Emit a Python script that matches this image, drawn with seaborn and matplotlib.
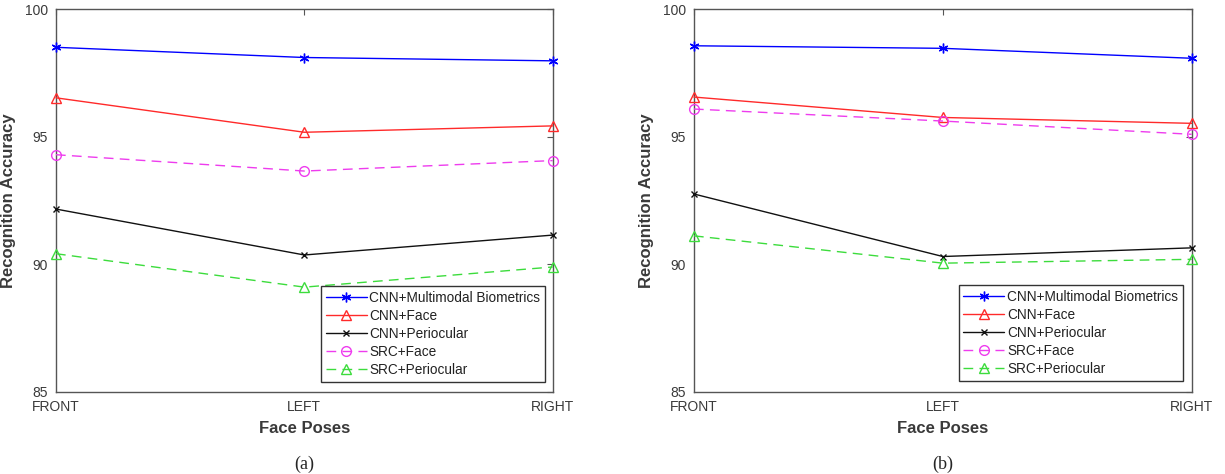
import pandas as pd
import seaborn as sns
import matplotlib as mpl
import matplotlib.pyplot as plt

sns.set_style("white")
plt.rcParams['font.family'] = ['Liberation Sans', 'DejaVu Sans']

poses = ["FRONT", "LEFT", "RIGHT"]
methods = ["CNN+Multimodal Biometrics", "CNN+Face", "CNN+Periocular",
           "SRC+Face", "SRC+Periocular"]

# (a)
acc_a = {
    "CNN+Multimodal Biometrics": [98.51, 98.11, 97.98],
    "CNN+Face": [96.53, 95.18, 95.43],
    "CNN+Periocular": [92.17, 90.37, 91.15],
    "SRC+Face": [94.30, 93.66, 94.07],
    "SRC+Periocular": [90.42, 89.11, 89.90],
}
# (b)
acc_b = {
    "CNN+Multimodal Biometrics": [98.57, 98.47, 98.08],
    "CNN+Face": [96.56, 95.76, 95.53],
    "CNN+Periocular": [92.76, 90.31, 90.65],
    "SRC+Face": [96.09, 95.62, 95.10],
    "SRC+Periocular": [91.12, 90.05, 90.20],
}

styles = {
    "CNN+Multimodal Biometrics": dict(color="#0000ff", marker=(6, 2, 0), ls="-", ms=7),
    "CNN+Face": dict(color="#ff2a2a", marker="^", ls="-", ms=7),
    "CNN+Periocular": dict(color="#111111", marker="x", ls="-", ms=5),
    "SRC+Face": dict(color="#ee3cee", marker="o", ls="--", ms=7),
    "SRC+Periocular": dict(color="#3cdc3c", marker="^", ls="--", ms=7),
}

fig = plt.figure(figsize=(12.25, 4.74), dpi=100)
ax_pos = [[0.0457, 0.173, 0.4055, 0.8074], [0.5665, 0.173, 0.4063, 0.8074]]
leg_anchor = [(0.9845, 0.027), (0.982, 0.0295)]
captions = ["(a)", "(b)"]
grey = "#3a3a3a"

for k, acc in enumerate([acc_a, acc_b]):
    ax = fig.add_axes(ax_pos[k])
    for m in methods:
        st = styles[m]
        df = pd.DataFrame({"pose": poses, "acc": acc[m]})
        sns.lineplot(data=df, x="pose", y="acc", ax=ax, label=m,
                     color=st["color"], marker=st["marker"],
                     markersize=st["ms"], markerfacecolor="none",
                     markeredgecolor=st["color"], markeredgewidth=1,
                     linewidth=1.0, clip_on=False, zorder=3)
        if st["ls"] == "--":
            ax.lines[-1].set_dashes((7, 4.5))
    ax.set_xlim(0, 2)
    ax.set_ylim(85, 100)
    ax.set_yticks([85, 90, 95, 100])
    ax.tick_params(direction="in", length=4, width=0.8, top=True, right=True,
                   labelsize=10, labelcolor=grey, color="#555555", pad=6)
    for sp in ax.spines.values():
        sp.set_color("#555555")
        sp.set_linewidth(1.0)
    ax.set_xlabel("Face Poses", fontsize=12, fontweight="bold", color=grey, labelpad=5)
    ax.set_ylabel("Recognition Accuracy", fontsize=12, fontweight="bold", color=grey, labelpad=6)
    leg = ax.legend(loc="lower right", bbox_to_anchor=leg_anchor[k], borderaxespad=0,
                    fontsize=9.8, fancybox=False, framealpha=1, edgecolor="#333333",
                    handlelength=3.0, handletextpad=0.2, labelspacing=0.3,
                    borderpad=0.35)
    leg.get_frame().set_linewidth(1.0)
    leg.set_zorder(5)
    for t in leg.get_texts():
        t.set_color("#222222")
    bb = ax.get_position()
    fig.text((bb.x0 + bb.x1) / 2, 1 - 464 / 474, captions[k], ha="center", va="center",
             fontsize=13, family=["Liberation Serif", "DejaVu Serif"])

fig.savefig("out.png", dpi=100)
